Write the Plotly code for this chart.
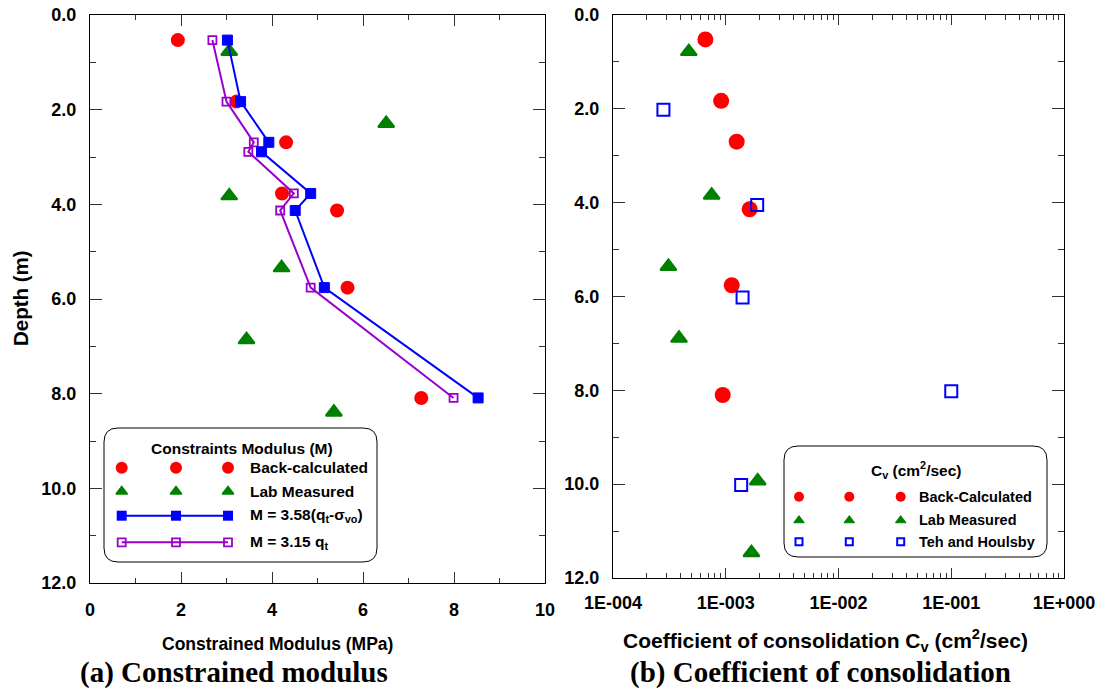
import plotly.graph_objects as go

W, H = 1102, 692

# ---------------- data: (a) constrained modulus ----------------
depth_bc = [0.53, 1.83, 2.69, 3.77, 4.13, 5.76, 8.09]
M_bc = [1.93, 3.22, 4.31, 4.22, 5.43, 5.66, 7.28]
depth_lab = [0.77, 2.29, 3.82, 5.34, 6.86, 8.39]
M_lab = [3.06, 6.51, 3.06, 4.21, 3.44, 5.36]
depth_cpt = [0.53, 1.83, 2.69, 2.89, 3.77, 4.13, 5.76, 8.09]
M_358 = [3.02, 3.31, 3.93, 3.77, 4.85, 4.51, 5.15, 8.53]
M_315 = [2.69, 3.00, 3.60, 3.48, 4.48, 4.18, 4.85, 7.99]

# ---------------- data: (b) coefficient of consolidation ----------------
depth_cv_bc = [0.52, 1.83, 2.70, 4.14, 5.76, 8.10]
cv_bc = [6.6e-4, 9.1e-4, 1.25e-3, 1.63e-3, 1.13e-3, 9.4e-4]
depth_cv_lab = [0.78, 3.84, 5.36, 6.89, 9.93, 11.46]
cv_lab = [4.7e-4, 7.5e-4, 3.1e-4, 3.85e-4, 1.92e-3, 1.69e-3]
depth_cv_th = [2.02, 4.05, 6.02, 8.02, 10.02]
cv_th = [2.8e-4, 1.9e-3, 1.41e-3, 1.0e-1, 1.37e-3]

# ---------------- ticks ----------------
depth_ticks = [0, 2, 4, 6, 8, 10, 12]
depth_ticktext = ["0.0", "2.0", "4.0", "6.0", "8.0", "10.0", "12.0"]
depth_minor = [1, 3, 5, 7, 9, 11]
M_ticks = [0, 2, 4, 6, 8, 10]
M_ticktext = ["0", "2", "4", "6", "8", "10"]
M_minor = [1, 3, 5, 7, 9]
cv_ticks = [1e-4, 1e-3, 1e-2, 1e-1, 1e0]
cv_ticktext = ["1E-004", "1E-003", "1E-002", "1E-001", "1E+000"]
cv_minor = [m * d for d in (1e-4, 1e-3, 1e-2, 1e-1) for m in range(2, 10)]

RED, GREEN, BLUE, PURPLE = "#FF0000", "#008000", "#0000FF", "#9900CC"
SANS = "Liberation Sans, Arial, sans-serif"
SERIF = "Liberation Serif, Times New Roman, serif"


def px(x):
    return x / W


def py(y):
    return 1 - y / H


fig = go.Figure()

# ---- panel (a)
fig.add_trace(go.Scatter(x=M_bc, y=depth_bc, mode="markers", xaxis="x", yaxis="y",
                         marker=dict(symbol="circle", size=14, color=RED)))
fig.add_trace(go.Scatter(x=M_lab, y=depth_lab, mode="markers", xaxis="x", yaxis="y",
                         marker=dict(symbol="triangle-up", size=14, color=GREEN,
                                     line=dict(color=GREEN, width=2))))
fig.add_trace(go.Scatter(x=M_315, y=depth_cpt, mode="lines+markers", xaxis="x", yaxis="y",
                         line=dict(color=PURPLE, width=2),
                         marker=dict(symbol="square-open", size=8, color=PURPLE,
                                     line=dict(color=PURPLE, width=1.8))))
fig.add_trace(go.Scatter(x=M_358, y=depth_cpt, mode="lines+markers", xaxis="x", yaxis="y",
                         line=dict(color=BLUE, width=2),
                         marker=dict(symbol="square", size=10, color=BLUE,
                                     line=dict(color=BLUE, width=1))))

# ---- panel (b)
fig.add_trace(go.Scatter(x=cv_bc, y=depth_cv_bc, mode="markers", xaxis="x2", yaxis="y2",
                         marker=dict(symbol="circle", size=16, color=RED)))
fig.add_trace(go.Scatter(x=cv_lab, y=depth_cv_lab, mode="markers", xaxis="x2", yaxis="y2",
                         marker=dict(symbol="triangle-up", size=14, color=GREEN,
                                     line=dict(color=GREEN, width=2))))
fig.add_trace(go.Scatter(x=cv_th, y=depth_cv_th, mode="markers", xaxis="x2", yaxis="y2",
                         marker=dict(symbol="square-open", size=12, color=BLUE,
                                     line=dict(color=BLUE, width=2))))

# ---- custom legends (drawn on a full-figure pixel overlay axis)
legA_x = [121.7, 176, 228]
legB_x = [799, 849.3, 900.7]
fig.add_trace(go.Scatter(x=legA_x, y=[467.7] * 3, mode="markers", xaxis="x3", yaxis="y3",
                         marker=dict(symbol="circle", size=12, color=RED)))
fig.add_trace(go.Scatter(x=legA_x, y=[491.5] * 3, mode="markers", xaxis="x3", yaxis="y3",
                         marker=dict(symbol="triangle-up", size=10, color=GREEN,
                                     line=dict(color=GREEN, width=1.5))))
fig.add_trace(go.Scatter(x=legA_x, y=[515.7] * 3, mode="lines+markers", xaxis="x3", yaxis="y3",
                         line=dict(color=BLUE, width=2),
                         marker=dict(symbol="square", size=10, color=BLUE)))
fig.add_trace(go.Scatter(x=legA_x, y=[542.3] * 3, mode="lines+markers", xaxis="x3", yaxis="y3",
                         line=dict(color=PURPLE, width=2),
                         marker=dict(symbol="square-open", size=8, color=PURPLE,
                                     line=dict(color=PURPLE, width=1.8))))
fig.add_trace(go.Scatter(x=legB_x, y=[496.7] * 3, mode="markers", xaxis="x3", yaxis="y3",
                         marker=dict(symbol="circle", size=10, color=RED)))
fig.add_trace(go.Scatter(x=legB_x, y=[520.5] * 3, mode="markers", xaxis="x3", yaxis="y3",
                         marker=dict(symbol="triangle-up", size=9, color=GREEN,
                                     line=dict(color=GREEN, width=1.2))))
fig.add_trace(go.Scatter(x=legB_x, y=[541.7] * 3, mode="markers", xaxis="x3", yaxis="y3",
                         marker=dict(symbol="square-open", size=7, color=BLUE,
                                     line=dict(color=BLUE, width=2))))


def rounded(x0, y0, x1, y1, r):
    return (f"M{x0 + r},{y0} L{x1 - r},{y0} Q{x1},{y0} {x1},{y0 + r} "
            f"L{x1},{y1 - r} Q{x1},{y1} {x1 - r},{y1} L{x0 + r},{y1} "
            f"Q{x0},{y1} {x0},{y1 - r} L{x0},{y0 + r} Q{x0},{y0} {x0 + r},{y0} Z")


shapes = [
    dict(type="path", path=rounded(104, 428, 377, 562, 14), xref="x3", yref="y3",
         line=dict(color="black", width=1), fillcolor="rgba(0,0,0,0)", layer="below"),
    dict(type="path", path=rounded(784, 446, 1047, 557, 14), xref="x3", yref="y3",
         line=dict(color="black", width=1), fillcolor="rgba(0,0,0,0)", layer="below"),
]

tickfont = dict(family=SANS, size=18, color="black", weight="bold")
common = dict(showline=True, linecolor="black", linewidth=1, mirror="allticks",
              ticks="inside", tickcolor="#333", tickwidth=1, showgrid=False,
              zeroline=False, tickfont=tickfont, automargin=False)

yax = dict(common, range=[12, 0], autorange=False, tickmode="array",
           tickvals=depth_ticks, ticktext=depth_ticktext, ticklen=12, ticklabelstandoff=9,
           minor=dict(tickmode="array", tickvals=depth_minor, ticks="inside",
                      ticklen=6, tickcolor="#333", showgrid=False))

fig.update_layout(
    width=W, height=H, margin=dict(l=0, r=0, t=0, b=0, pad=0, autoexpand=False),
    paper_bgcolor="white", plot_bgcolor="rgba(0,0,0,0)", showlegend=False,
    xaxis=dict(common, domain=[px(90), px(545)], range=[0, 10], autorange=False,
               tickmode="array", tickvals=M_ticks, ticktext=M_ticktext, ticklen=11,
               ticklabelstandoff=10, anchor="y",
               minor=dict(tickmode="array", tickvals=M_minor, ticks="inside",
                          ticklen=5, tickcolor="#333", showgrid=False)),
    yaxis=dict(yax, domain=[py(583), py(15)], anchor="x"),
    xaxis2=dict(common, domain=[px(613), px(1064)], type="log", range=[-4, 0],
                autorange=False, tickmode="array", tickvals=cv_ticks,
                ticktext=cv_ticktext, ticklen=10, ticklabelstandoff=8, anchor="y2",
                minor=dict(tickmode="array", tickvals=cv_minor, ticks="inside",
                           ticklen=5, tickcolor="#333", showgrid=False)),
    yaxis2=dict(yax, domain=[py(578), py(15)], anchor="x2"),
    xaxis3=dict(domain=[0, 1], range=[0, W], autorange=False, visible=False,
                anchor="y3", automargin=False),
    yaxis3=dict(domain=[0, 1], range=[H, 0], autorange=False, visible=False,
                anchor="x3", automargin=False),
    shapes=shapes,
)

bold = lambda s: dict(family=SANS, size=s, color="black", weight="bold")
ann = [
    dict(x=px(241.7), y=py(448), text="Constraints Modulus (M)", xanchor="center",
         font=bold(15.5)),
    dict(x=px(247.7), y=py(467.7), text="Back-calculated", xanchor="left", font=bold(15.5)),
    dict(x=px(247.7), y=py(491), text="Lab Measured", xanchor="left", font=bold(15.5)),
    dict(x=px(247.7), y=py(515.7), text="M = 3.58(q<sub>t</sub>-σ<sub>vo</sub>)",
         xanchor="left", font=bold(15.5)),
    dict(x=px(247.7), y=py(542.3), text="M = 3.15 q<sub>t</sub>", xanchor="left",
         font=bold(15.5)),
    dict(x=px(916), y=py(470), text="C<sub>v</sub> (cm<sup>2</sup>/sec)", xanchor="center",
         font=bold(15.5)),
    dict(x=px(916.7), y=py(496.7), text="Back-Calculated", xanchor="left", font=bold(14.5)),
    dict(x=px(916.7), y=py(520), text="Lab Measured", xanchor="left", font=bold(14.5)),
    dict(x=px(916.7), y=py(541.7), text="Teh and Houlsby", xanchor="left", font=bold(14.5)),
    dict(x=px(277), y=py(644), text="Constrained Modulus (MPa)", xanchor="center",
         font=bold(17.5)),
    dict(x=px(825), y=py(640),
         text="Coefficient of consolidation C<sub>v</sub> (cm<sup>2</sup>/sec)",
         xanchor="center", font=bold(21)),
    dict(x=px(20), y=py(298), text="Depth (m)", textangle=-90, xanchor="center",
         font=bold(20.5)),
    dict(x=px(234), y=py(672), text="(a) Constrained modulus", xanchor="center",
         font=dict(family=SERIF, size=29, color="black", weight="bold")),
    dict(x=px(820), y=py(672), text="(b) Coefficient of consolidation", xanchor="center",
         font=dict(family=SERIF, size=29, color="black", weight="bold")),
]
for a in ann:
    a.update(xref="paper", yref="paper", showarrow=False, yanchor="middle")
fig.update_layout(annotations=ann)

fig.write_html("out.html")
